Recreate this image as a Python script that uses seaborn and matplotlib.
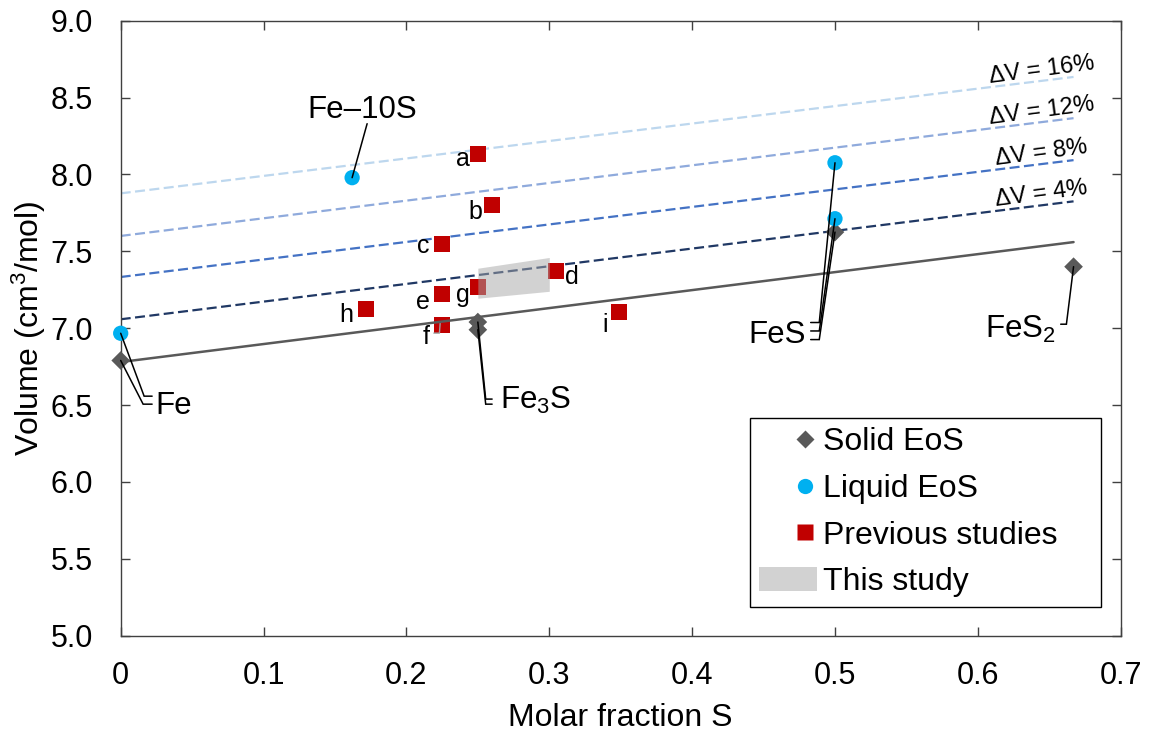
import matplotlib
matplotlib.use('Agg')
import matplotlib.pyplot as plt
import matplotlib.ticker as mticker
from matplotlib.lines import Line2D
from matplotlib.patches import Patch
from matplotlib.legend_handler import HandlerLine2D
import seaborn as sns

# --- DATA ---
solid_x = [0.0, 0.25, 0.25, 0.5, 0.667]
solid_v = [6.79, 7.04, 6.99, 7.625, 7.40]

liquid_x = [0.0, 0.162, 0.5, 0.5]
liquid_v = [6.967, 7.979, 8.076, 7.712]

prev_labels = ['a', 'b', 'c', 'd', 'e', 'f', 'g', 'h', 'i']
prev_x = [0.25, 0.26, 0.225, 0.3045, 0.225, 0.225, 0.25, 0.172, 0.349]
prev_v = [8.136, 7.803, 7.55, 7.372, 7.221, 7.019, 7.266, 7.123, 7.104]

# this study: band between lower and upper volume
study_x = [0.25, 0.30]
study_lo = [7.195, 7.24]
study_hi = [7.39, 7.46]

# ideal mixing line and ΔV lines (start at x=0, end at FeS2)
mix_x = [0.0, 0.667]
mix_v = [6.78, 7.56]
dv_labels = ['ΔV = 4%', 'ΔV = 8%', 'ΔV = 12%', 'ΔV = 16%']
dv_start = [7.058, 7.333, 7.60, 7.877]
dv_end = [7.825, 8.093, 8.366, 8.634]

# --- STYLE ---
sns.set_theme(style='ticks')
plt.rcParams['font.family'] = ['Liberation Sans', 'DejaVu Sans']
plt.rcParams['mathtext.fontset'] = 'custom'
plt.rcParams['mathtext.rm'] = 'Liberation Sans'
plt.rcParams['mathtext.it'] = 'Liberation Sans'
plt.rcParams['text.color'] = 'black'

GREY = '#595959'
BLUE = '#00B0F0'
RED = '#C00000'
dv_colors = ['#203864', '#4472C4', '#8FAADC', '#BDD7EE']

fig = plt.figure(figsize=(11.55, 7.33), dpi=100)
ax = fig.add_axes([0.1045, 0.1327, 0.8658, 0.8391])

# dashed ΔV lines
for lab, v0, v1, col in zip(dv_labels, dv_start, dv_end, dv_colors):
    sns.lineplot(x=mix_x, y=[v0, v1], color=col, lw=1.6, linestyle=(0, (4.5, 2)),
                 ax=ax, zorder=1.5)
    xt = 0.645
    yt = v0 + (v1 - v0) * xt / mix_x[1]
    ax.annotate(lab, (xt, yt), xytext=(0, 5), textcoords='offset pixels',
                ha='center', va='baseline', rotation=7.5, rotation_mode='anchor',
                fontsize=17, color='black', zorder=6)

sns.lineplot(x=mix_x, y=mix_v, color=GREY, lw=1.8, ax=ax, zorder=3)

sns.scatterplot(x=prev_x, y=prev_v, marker='s', s=11.5**2, color=RED,
                edgecolor='none', linewidth=0, ax=ax, zorder=2, clip_on=False)
sns.scatterplot(x=solid_x, y=solid_v, marker='D', s=9.5**2, color=GREY,
                edgecolor='none', linewidth=0, ax=ax, zorder=4, clip_on=False)
sns.scatterplot(x=liquid_x, y=liquid_v, marker='o', s=11**2, color=BLUE,
                edgecolor='none', linewidth=0, ax=ax, zorder=4, clip_on=False)

ax.fill_between(study_x, study_lo, study_hi, color='#a6a6a6', alpha=0.5,
                linewidth=0, zorder=5)

# letter labels for previous studies (offsets in pixels)
prev_offsets = [(-8, -12), (-10, -14), (-13, -9), (9, -13), (-12, -15),
                (-13, -19), (-8, -15), (-13, -13), (-11, -20)]
for lab, x, v, (dx, dy) in zip(prev_labels, prev_x, prev_v, prev_offsets):
    ax.annotate(lab, (x, v), xytext=(dx, dy), textcoords='offset pixels',
                ha='left' if dx > 0 else 'right', va='baseline', fontsize=18,
                zorder=6)
# small leader for f
ax.plot([0.2192, 0.2231, 0.2236], [6.968, 6.968, 7.03], color='#a0a0a0', lw=1, zorder=6)


def leader(pts, color='black'):
    xs, ys = zip(*pts)
    ax.plot(xs, ys, color=color, lw=1.1, zorder=6, solid_joinstyle='miter',
            clip_on=False)


# Fe
leader([(0, 6.967), (0.0164, 6.558), (0.022, 6.558)])
leader([(0, 6.79), (0.0157, 6.506), (0.022, 6.506)])
ax.text(0.024, 6.442, 'Fe', fontsize=22.5, ha='left', va='baseline', zorder=6)
# Fe3S
leader([(0.25, 7.04), (0.2555, 6.539), (0.26, 6.539)])
leader([(0.25, 6.99), (0.2555, 6.506), (0.26, 6.506)])
ax.text(0.2655, 6.474, r'Fe$_3$S', fontsize=22.5, ha='left', va='baseline', zorder=6)
# FeS
leader([(0.5, 8.076), (0.489, 7.037), (0.483, 7.037)])
leader([(0.5, 7.712), (0.489, 6.982), (0.483, 6.982)])
leader([(0.5, 7.625), (0.489, 6.926), (0.483, 6.926)])
ax.text(0.4797, 6.907, 'FeS', fontsize=22.5, ha='right', va='baseline', zorder=6)
# FeS2
leader([(0.667, 7.40), (0.662, 7.026), (0.658, 7.026)])
ax.text(0.6545, 6.94, r'FeS$_2$', fontsize=22.5, ha='right', va='baseline', zorder=6)
# Fe-10S
leader([(0.162, 7.979), (0.1725, 8.33)])
ax.text(0.169, 8.367, 'Fe–10S', fontsize=22.5, ha='center', va='baseline', zorder=6)

# --- AXES ---
ax.set_xlim(0, 0.7)
ax.set_ylim(5, 9)
ax.xaxis.set_major_locator(mticker.MultipleLocator(0.1))
ax.yaxis.set_major_locator(mticker.MultipleLocator(0.5))
ax.xaxis.set_major_formatter(mticker.FuncFormatter(lambda x, _: '0' if abs(x) < 1e-9 else f'{x:.1f}'))
ax.yaxis.set_major_formatter(mticker.FuncFormatter(lambda y, _: f'{y:.1f}'))
ax.tick_params(axis='both', direction='in', top=True, right=True, length=6.5,
               width=1, color='#404040', labelsize=22, labelcolor='black')
ax.tick_params(axis='x', pad=18)
ax.tick_params(axis='y', pad=20)
for sp in ax.spines.values():
    sp.set_color('#404040')
    sp.set_linewidth(1.0)
    sp.set_visible(True)

ax.set_xlabel('Molar fraction S', fontsize=23, color='black')
ax.set_ylabel('Volume (cm$^3$/mol)', fontsize=23, color='black')
ax.xaxis.set_label_coords(0.5, -0.11)
ax.yaxis.set_label_coords(-0.073, 0.5)


class RightMarker(HandlerLine2D):
    # single marker placed near the right end of the handle box
    def get_xdata(self, legend, xdescent, ydescent, width, height, fontsize):
        xdata = [-xdescent + 0.6 * width, -xdescent + width]
        return xdata, [-xdescent + 0.8 * width]


handles = [
    Line2D([], [], marker='D', ls='none', color=GREY, ms=9, mec='none'),
    Line2D([], [], marker='o', ls='none', color=BLUE, ms=11, mec='none'),
    Line2D([], [], marker='s', ls='none', color=RED, ms=11.5, mec='none'),
    Patch(facecolor='#a6a6a6', alpha=0.5, edgecolor='none'),
]
labels = ['Solid EoS', 'Liquid EoS', 'Previous studies', 'This study']
leg = ax.legend(handles, labels, loc='lower left', mode='expand',
                bbox_to_anchor=(0.629, 0.047, 0.351, 0.3065),
                fontsize=23, frameon=True, fancybox=False, edgecolor='black',
                framealpha=1, handlelength=1.8, handleheight=0.75,
                handletextpad=0.2, labelspacing=0.52, borderpad=0.3,
                borderaxespad=0, handler_map={Line2D: RightMarker()})
leg.get_frame().set_linewidth(1.0)
leg.set_zorder(10)

fig.savefig('out.png', dpi=100)
